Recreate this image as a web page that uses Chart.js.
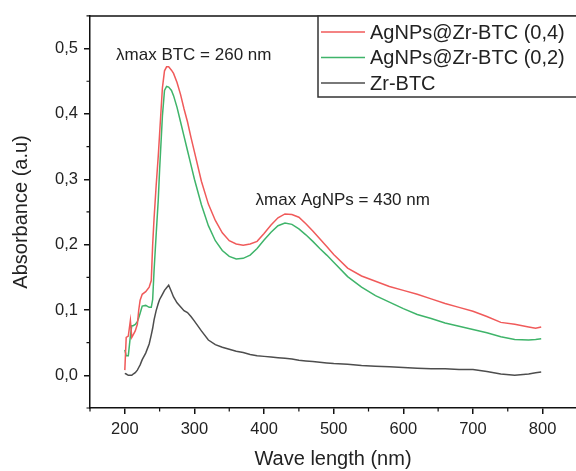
<!DOCTYPE html>
<html>
<head>
<meta charset="utf-8">
<script src="https://cdn.jsdelivr.net/npm/chart.js@4.4.1/dist/chart.umd.min.js"></script>
<style>
  html, body { margin: 0; padding: 0; background: #fff; }
  canvas { display: block; }
</style>
</head>
<body>
<canvas id="uvChart" width="576" height="471"></canvas>
<script>
const wavelengths = [200, 202, 205, 208, 210, 212, 215, 218, 220, 222, 225, 230, 235, 238, 240, 242, 245, 248, 250, 254, 257, 260, 263, 267, 270, 275, 280, 285, 290, 295, 300, 310, 320, 330, 340, 350, 360, 370, 380, 390, 400, 410, 420, 430, 440, 450, 460, 470, 480, 490, 500, 520, 540, 560, 580, 600, 620, 640, 660, 680, 700, 720, 740, 760, 780, 790, 798];

const agZr04 = [0.008, 0.058, 0.060, 0.084, 0.058, 0.062, 0.068, 0.078, 0.100, 0.115, 0.124, 0.128, 0.135, 0.145, 0.200, 0.240, 0.290, 0.335, 0.370, 0.440, 0.466, 0.472, 0.472, 0.467, 0.462, 0.448, 0.430, 0.408, 0.388, 0.364, 0.342, 0.297, 0.262, 0.237, 0.218, 0.206, 0.201, 0.199, 0.201, 0.205, 0.217, 0.230, 0.241, 0.247, 0.246, 0.242, 0.232, 0.221, 0.209, 0.197, 0.185, 0.164, 0.152, 0.144, 0.136, 0.130, 0.124, 0.117, 0.110, 0.104, 0.098, 0.090, 0.081, 0.078, 0.074, 0.072, 0.074];

const agZr02 = [0.039, 0.030, 0.030, 0.060, 0.076, 0.076, 0.078, 0.082, 0.088, 0.095, 0.106, 0.107, 0.104, 0.104, 0.116, 0.160, 0.215, 0.268, 0.315, 0.397, 0.436, 0.442, 0.441, 0.436, 0.428, 0.410, 0.388, 0.366, 0.344, 0.322, 0.300, 0.261, 0.229, 0.206, 0.191, 0.182, 0.178, 0.179, 0.184, 0.194, 0.207, 0.219, 0.229, 0.233, 0.231, 0.224, 0.215, 0.205, 0.194, 0.184, 0.173, 0.151, 0.135, 0.122, 0.112, 0.102, 0.093, 0.087, 0.080, 0.075, 0.070, 0.065, 0.059, 0.055, 0.054, 0.055, 0.056];

const zrBtc = [0.003, 0.002, 0.000, 0.000, 0.000, 0.002, 0.004, 0.008, 0.012, 0.016, 0.024, 0.034, 0.048, 0.062, 0.072, 0.085, 0.099, 0.110, 0.116, 0.124, 0.130, 0.134, 0.138, 0.128, 0.120, 0.111, 0.105, 0.099, 0.096, 0.090, 0.083, 0.068, 0.054, 0.047, 0.043, 0.040, 0.037, 0.035, 0.032, 0.030, 0.029, 0.028, 0.027, 0.026, 0.025, 0.023, 0.022, 0.021, 0.020, 0.019, 0.018, 0.017, 0.015, 0.014, 0.013, 0.012, 0.011, 0.010, 0.010, 0.009, 0.009, 0.006, 0.002, 0.000, 0.002, 0.004, 0.005];

const seriesLabels = ['AgNPs@Zr-BTC (0,4)', 'AgNPs@Zr-BTC (0,2)', 'Zr-BTC'];
const xTicks = [200, 300, 400, 500, 600, 700, 800];
const yTicks = [0.0, 0.1, 0.2, 0.3, 0.4, 0.5];
const xMinor = [150, 250, 350, 450, 550, 650, 750, 850];
const yMinor = [-0.05, 0.05, 0.15, 0.25, 0.35, 0.45, 0.55];
const notes = [
  { text: 'λmax BTC = 260 nm', x: 299, y: 0.489 },
  { text: 'λmax AgNPs = 430 nm', x: 513, y: 0.268 }
];

const FONT = "'Liberation Sans', Arial, sans-serif";
const INK = '#222';

const toPoints = vals => wavelengths.map((w, i) => ({ x: w, y: vals[i] }));

const extras = {
  id: 'extras',
  afterDraw(chart) {
    const { ctx, chartArea: a, scales: { x, y } } = chart;
    ctx.save();
    // top frame line
    ctx.strokeStyle = '#111';
    ctx.lineWidth = 1.5;
    ctx.beginPath();
    ctx.moveTo(a.left, a.top);
    ctx.lineTo(chart.width, a.top);
    ctx.stroke();
    // minor ticks
    ctx.lineWidth = 1.2;
    ctx.beginPath();
    xMinor.forEach(v => {
      const px = x.getPixelForValue(v);
      if (px > chart.width) return;
      ctx.moveTo(px, a.bottom);
      ctx.lineTo(px, a.bottom + 3.5);
    });
    yMinor.forEach(v => {
      const py = y.getPixelForValue(v);
      ctx.moveTo(a.left, py);
      ctx.lineTo(a.left - 3.5, py);
    });
    ctx.stroke();
    // annotations
    ctx.fillStyle = INK;
    ctx.font = '17px ' + FONT;
    ctx.textAlign = 'center';
    ctx.textBaseline = 'middle';
    notes.forEach(n => ctx.fillText(n.text, x.getPixelForValue(n.x), y.getPixelForValue(n.y)));
    // legend box
    const bx = 318, by = 16, bw = 270, bh = 81;
    ctx.fillStyle = '#fff';
    ctx.fillRect(bx, by, bw, bh);
    ctx.strokeStyle = '#333';
    ctx.lineWidth = 1.5;
    ctx.strokeRect(bx, by, bw, bh);
    ctx.font = '20px ' + FONT;
    ctx.textAlign = 'left';
    chart.data.datasets.forEach((ds, i) => {
      const ry = 32 + i * 25.5;
      ctx.strokeStyle = ds.borderColor;
      ctx.lineWidth = 1.5;
      ctx.beginPath();
      ctx.moveTo(321, ry);
      ctx.lineTo(365, ry);
      ctx.stroke();
      ctx.fillStyle = INK;
      ctx.fillText(ds.label, 370, ry + 1);
    });
    ctx.restore();
  }
};

new Chart(document.getElementById('uvChart'), {
  type: 'line',
  data: {
    datasets: [
      { label: seriesLabels[0], data: toPoints(agZr04), borderColor: '#f05a5a' },
      { label: seriesLabels[1], data: toPoints(agZr02), borderColor: '#3fb46a' },
      { label: seriesLabels[2], data: toPoints(zrBtc), borderColor: '#4d4d4d' }
    ]
  },
  options: {
    responsive: false,
    animation: false,
    devicePixelRatio: 1,
    layout: { padding: { top: 15, left: 0, right: 0, bottom: 0 } },
    elements: {
      line: { borderWidth: 1.5, tension: 0 },
      point: { radius: 0 }
    },
    plugins: {
      legend: { display: false },
      tooltip: { enabled: false }
    },
    scales: {
      x: {
        type: 'linear',
        min: 150,
        max: 848,
        afterBuildTicks: s => { s.ticks = xTicks.map(v => ({ value: v })); },
        afterFit: s => { s.height = 63; },
        border: { display: true, color: '#111', width: 1.5 },
        grid: { drawOnChartArea: false, drawTicks: true, tickLength: 6, color: '#111', lineWidth: 1.5 },
        ticks: { color: INK, font: { family: FONT, size: 16.5 }, padding: 6, maxRotation: 0 },
        title: { display: true, text: 'Wave length (nm)', color: INK, font: { family: FONT, size: 20 }, padding: { top: 0, bottom: 0 } }
      },
      y: {
        type: 'linear',
        min: -0.05,
        max: 0.55,
        afterBuildTicks: s => { s.ticks = yTicks.map(v => ({ value: v })); },
        afterFit: s => { s.width = 90; },
        border: { display: true, color: '#111', width: 1.5 },
        grid: { drawOnChartArea: false, drawTicks: true, tickLength: 6, color: '#111', lineWidth: 1.5 },
        ticks: { color: INK, font: { family: FONT, size: 16.5 }, padding: 6, callback: v => v.toFixed(1).replace('.', ',') },
        title: { display: true, text: 'Absorbance (a.u)', color: INK, font: { family: FONT, size: 20 }, padding: { top: 9, bottom: 0 } }
      }
    }
  },
  plugins: [extras]
});
</script>
</body>
</html>
